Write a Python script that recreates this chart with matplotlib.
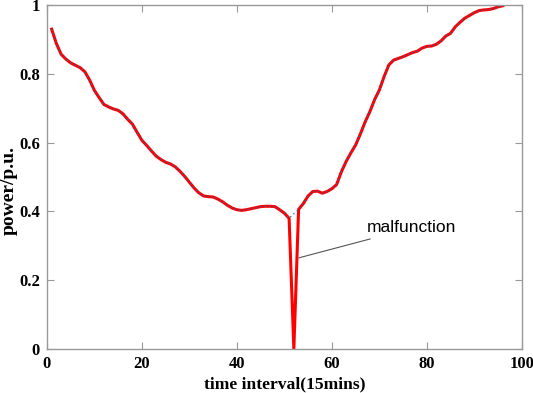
import numpy as np
import matplotlib
matplotlib.use("Agg")
import matplotlib.pyplot as plt

# time index (15 min steps) and per-unit power
t = np.arange(1, 97)
normal = [0.930, 0.888, 0.857, 0.843, 0.832, 0.825, 0.818, 0.806, 0.782, 0.752,
          0.731, 0.711, 0.704, 0.698, 0.694, 0.684, 0.668, 0.654, 0.630, 0.607,
          0.592, 0.576, 0.561, 0.551, 0.543, 0.538, 0.530, 0.517, 0.502, 0.485,
          0.468, 0.454, 0.445, 0.443, 0.442, 0.436, 0.428, 0.418, 0.410, 0.405,
          0.403, 0.405, 0.408, 0.411, 0.414, 0.415, 0.415, 0.414, 0.405, 0.395,
          0.380, 0.393, 0.406, 0.423, 0.445, 0.458, 0.459, 0.453, 0.458, 0.466,
          0.478, 0.515, 0.545, 0.570, 0.593, 0.625, 0.660, 0.690, 0.725, 0.753,
          0.792, 0.826, 0.840, 0.845, 0.850, 0.856, 0.862, 0.866, 0.875, 0.880,
          0.881, 0.886, 0.896, 0.910, 0.918, 0.937, 0.950, 0.962, 0.970, 0.978,
          0.984, 0.986, 0.987, 0.990, 0.995, 0.998]
fault_index = 52
fault_value = 0.0

faulty = list(normal)
faulty[fault_index - 1] = fault_value

xticks = [0, 20, 40, 60, 80, 100]
yticks = [0, 0.2, 0.4, 0.6, 0.8, 1]
ytick_labels = ["0", "0.2", "0.4", "0.6", "0.8", "1"]


def main():
    fig = plt.figure(figsize=(5.33, 3.93), dpi=100)
    ax = fig.add_axes([0.088, 0.112, 0.891, 0.875])

    # faulty series in red, normal series dotted blue on top
    ax.plot(t, faulty, color="#ff0000", lw=2.2, zorder=2)
    ax.plot(t, normal, color="#0072bd", lw=0.9, ls=(0, (1, 2.5)), zorder=3)

    ax.set_xlim(0, 100)
    ax.set_ylim(0, 1)
    ax.set_xticks(xticks)
    ax.set_yticks(yticks)
    ax.set_yticklabels(ytick_labels)

    serif = {"family": "Liberation Serif", "weight": "bold", "size": 12}
    for lab in ax.get_xticklabels() + ax.get_yticklabels():
        lab.set_fontproperties(matplotlib.font_manager.FontProperties(**serif))
    ax.tick_params(direction="in", length=5, width=0.8, color="#999999",
                   top=True, right=True, pad=5)
    for sp in ax.spines.values():
        sp.set_color("#999999")
        sp.set_linewidth(1.0)

    ax.set_xlabel("time interval(15mins)", fontdict=dict(serif, size=12.6),
                  labelpad=3)
    ax.set_ylabel("power/p.u.", fontdict=dict(serif, size=14), labelpad=0)
    ax.yaxis.set_label_coords(-0.062, 0.46)

    # annotation of the fault
    ax.annotate("malfunction", xy=(53.05, 0.265), xytext=(67.4, 0.352),
                fontsize=12.5, family="Liberation Sans", va="center",
                arrowprops=dict(arrowstyle="-", color="#555555", lw=0.8,
                                shrinkA=2, shrinkB=0))

    fig.savefig("out.png", dpi=100)


if __name__ == "__main__":
    main()
